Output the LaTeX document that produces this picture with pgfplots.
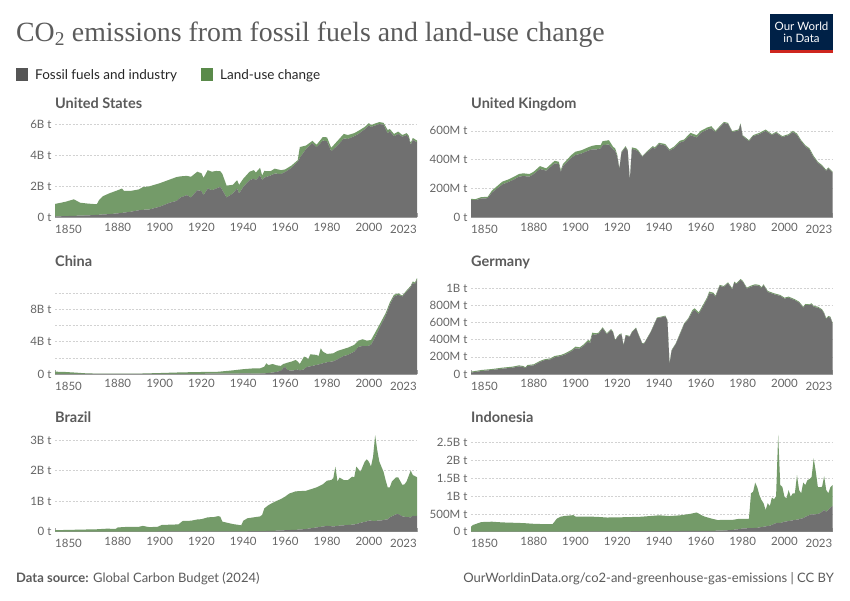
\documentclass[border=0pt]{standalone}
\usepackage{pgfplots}
\pgfplotsset{compat=1.18}
\usepackage{pgfplotstable}
\usepackage{fontspec}
\setmainfont{Lato}
\newfontfamily\titlefont{Liberation Serif}
\definecolor{fossilc}{HTML}{707070}
\definecolor{landc}{HTML}{749B69}
\definecolor{fossilleg}{HTML}{555555}
\definecolor{landleg}{HTML}{5A8A4A}
\definecolor{txt}{HTML}{5B5B5B}
\definecolor{tick}{HTML}{666666}
\definecolor{owidblue}{HTML}{002147}
\definecolor{owidred}{HTML}{CE261E}

\pgfplotstableread{
year fossil land
1850 0.05 0.81
1855 0.07 0.93
1859 0.09 1.07
1862 0.10 0.84
1866 0.12 0.76
1870 0.15 0.69
1871 0.16 0.94
1873 0.18 1.19
1876 0.20 1.35
1880 0.25 1.50
1882 0.28 1.58
1883 0.30 1.40
1886 0.35 1.35
1890 0.45 1.35
1892 0.48 1.47
1895 0.50 1.50
1900 0.68 1.52
1905 0.95 1.50
1908 1.05 1.55
1910 1.28 1.37
1913 1.43 1.25
1915 1.28 1.34
1918 1.75 1.20
1920 1.70 1.15
1921 1.43 1.12
1923 1.86 1.19
1925 1.75 1.20
1927 1.86 1.14
1929 1.97 1.01
1930 1.75 1.05
1932 1.28 0.77
1935 1.54 0.56
1937 1.86 0.54
1938 1.54 0.56
1940 1.97 0.53
1943 2.40 0.55
1945 2.50 0.55
1946 2.40 0.50
1948 2.72 0.48
1949 2.40 0.30
1950 2.57 0.43
1953 2.70 0.28
1955 2.83 0.32
1958 2.80 0.25
1960 2.93 0.17
1963 3.20 0.15
1966 3.60 0.10
1967 3.85 0.70
1970 4.43 0.22
1973 4.80 0.15
1975 4.54 0.16
1978 4.97 0.23
1980 4.93 0.25
1982 4.28 0.22
1985 4.65 0.30
1988 5.10 0.30
1990 5.08 0.25
1993 5.25 0.20
1995 5.40 0.20
1998 5.70 0.15
2000 5.95 0.15
2001 5.85 0.12
2003 5.95 0.13
2005 6.04 0.13
2007 6.00 0.12
2009 5.44 0.21
2010 5.58 0.14
2012 5.25 0.15
2014 5.40 0.15
2016 5.22 0.11
2018 5.33 0.12
2019 5.18 0.12
2020 4.69 0.13
2021 5.01 0.13
2023 4.86 0.11
}\usdata

\pgfplotstableread{
year fossil land
1850 120 8
1852 118 7
1855 130 10
1858 132 9
1860 171 14
1865 228 19
1868 245 18
1870 258 19
1873 282 18
1875 286 19
1878 282 18
1880 300 16
1883 335 20
1886 323 16
1890 374 18
1892 369 16
1893 316 12
1894 355 14
1898 413 19
1900 432 23
1903 443 23
1906 462 23
1908 471 25
1910 471 30
1912 478 22
1913 501 27
1916 505 30
1918 471 18
1919 462 16
1920 420 12
1921 335 4
1922 448 7
1924 485 9
1925 459 7
1926 258 5
1927 475 10
1929 466 12
1930 457 9
1932 420 5
1934 448 7
1937 485 9
1938 475 10
1940 508 9
1943 498 10
1945 462 9
1947 478 11
1950 519 12
1952 528 12
1955 570 16
1958 554 16
1960 586 14
1963 609 14
1965 618 14
1967 591 9
1969 623 9
1971 655 7
1973 648 7
1975 591 7
1978 602 7
1979 644 7
1980 563 7
1983 528 7
1985 563 7
1988 577 9
1991 600 9
1994 570 7
1996 586 7
1999 556 7
2002 570 7
2004 591 9
2006 572 9
2008 526 9
2010 492 8
2012 468 10
2014 415 10
2016 378 7
2018 353 9
2020 321 7
2021 339 7
2023 309 7
}\ukdata

\pgfplotstableread{
year fossil land
1850 0.01 0.28
1855 0.01 0.24
1860 0.01 0.16
1865 0.01 0.07
1870 0.01 0.04
1880 0.01 0.04
1890 0.01 0.04
1900 0.01 0.11
1910 0.02 0.18
1920 0.03 0.22
1928 0.04 0.24
1935 0.05 0.40
1940 0.07 0.53
1945 0.06 0.64
1948 0.06 0.64
1950 0.08 0.82
1951 0.10 1.22
1952 0.13 0.97
1954 0.18 1.06
1956 0.27 0.80
1958 0.41 0.59
1959 0.70 0.54
1960 0.90 0.40
1961 0.50 0.90
1963 0.41 1.12
1965 0.50 1.24
1966 0.55 0.98
1967 0.45 0.79
1969 0.58 1.57
1970 0.83 1.24
1971 0.90 0.92
1972 0.95 1.49
1975 1.12 1.24
1976 1.18 1.05
1977 1.25 1.93
1978 1.32 1.45
1980 1.45 1.03
1983 1.57 0.99
1985 1.82 1.03
1988 2.23 0.87
1990 2.36 0.90
1993 2.77 0.83
1995 3.35 0.78
1997 3.47 0.83
1999 3.43 0.70
2001 3.60 0.60
2003 4.55 0.57
2005 5.66 0.41
2008 7.19 0.33
2010 8.55 0.29
2012 9.59 0.21
2014 9.79 0.17
2016 9.59 0.11
2018 10.17 0.16
2020 10.74 0.16
2021 11.24 0.21
2022 11.12 0.18
2023 11.65 0.21
}\cndata

\pgfplotstableread{
year fossil land
1850 16 11
1855 35 12
1860 47 11
1865 62 12
1870 74 12
1873 89 12
1875 82 11
1876 66 12
1877 93 12
1880 101 12
1883 140 12
1885 160 11
1888 171 12
1890 195 15
1893 210 12
1895 226 15
1898 265 15
1900 300 19
1902 296 15
1904 331 15
1906 377 20
1907 358 27
1908 455 27
1910 463 12
1911 467 15
1913 533 12
1915 463 12
1917 514 11
1918 482 12
1919 389 8
1920 428 8
1921 455 8
1922 463 12
1923 331 8
1924 447 8
1926 436 8
1927 486 8
1929 533 8
1930 467 8
1932 350 8
1933 358 8
1936 486 8
1939 650 8
1941 661 8
1943 673 8
1944 623 7
1945 117 8
1946 272 8
1948 350 8
1950 463 12
1952 580 11
1954 638 12
1956 728 19
1957 747 20
1959 700 20
1961 786 19
1963 875 20
1964 942 19
1966 934 15
1967 899 15
1969 1027 12
1971 1016 11
1973 1058 12
1975 988 12
1976 1066 12
1977 1047 11
1979 1097 12
1980 1078 11
1982 996 12
1984 1019 12
1986 1035 12
1988 1027 12
1989 1000 12
1990 1035 12
1992 957 12
1995 930 12
1998 911 11
2000 879 12
2002 891 12
2005 860 12
2007 833 11
2009 774 12
2010 805 12
2012 802 11
2013 813 12
2014 782 12
2016 774 12
2018 743 12
2019 704 12
2020 638 12
2021 665 12
2022 658 11
2023 588 11
}\dedata

\pgfplotstableread{
year fossil land
1850 0.002 0.048
1860 0.003 0.062
1870 0.004 0.076
1875 0.004 0.096
1879 0.005 0.085
1880 0.005 0.135
1885 0.005 0.155
1890 0.006 0.154
1892 0.006 0.184
1895 0.006 0.144
1899 0.007 0.153
1901 0.007 0.213
1905 0.008 0.222
1909 0.008 0.232
1911 0.009 0.341
1915 0.009 0.351
1918 0.010 0.390
1920 0.010 0.400
1923 0.011 0.459
1926 0.012 0.468
1928 0.012 0.498
1929 0.012 0.478
1930 0.012 0.318
1935 0.013 0.237
1939 0.015 0.195
1940 0.015 0.345
1942 0.015 0.425
1945 0.017 0.453
1948 0.019 0.481
1949 0.020 0.530
1950 0.022 0.738
1952 0.025 0.845
1955 0.03 0.95
1958 0.04 1.03
1960 0.05 1.10
1962 0.055 1.195
1965 0.06 1.26
1970 0.09 1.25
1975 0.14 1.31
1978 0.17 1.38
1980 0.19 1.48
1982 0.18 1.51
1983 0.17 1.58
1984 0.18 1.95
1985 0.19 1.45
1986 0.20 1.57
1988 0.21 1.48
1990 0.22 1.47
1992 0.23 1.57
1993 0.24 1.54
1994 0.25 1.88
1996 0.29 1.67
1998 0.32 1.97
1999 0.34 2.03
2000 0.36 1.93
2001 0.36 1.77
2002 0.35 2.10
2003 0.35 2.81
2004 0.36 2.31
2005 0.36 1.93
2007 0.38 1.58
2008 0.40 1.29
2009 0.40 1.05
2010 0.47 0.98
2011 0.50 1.14
2013 0.57 1.21
2014 0.58 1.20
2016 0.50 1.03
2017 0.49 1.06
2018 0.48 1.16
2020 0.47 1.53
2021 0.52 1.33
2022 0.51 1.31
2023 0.52 1.26
}\brdata

\pgfplotstableread{
year fossil land
1850 0.001 0.14
1851 0.001 0.19
1853 0.001 0.23
1855 0.001 0.27
1860 0.001 0.28
1865 0.001 0.26
1870 0.002 0.25
1875 0.002 0.24
1880 0.002 0.22
1885 0.003 0.21
1889 0.003 0.21
1890 0.003 0.28
1891 0.003 0.36
1893 0.004 0.42
1895 0.004 0.44
1899 0.005 0.46
1900 0.005 0.42
1905 0.007 0.42
1910 0.008 0.41
1915 0.009 0.39
1920 0.01 0.39
1925 0.012 0.40
1930 0.015 0.40
1935 0.017 0.42
1940 0.02 0.44
1945 0.015 0.425
1950 0.02 0.44
1955 0.022 0.48
1958 0.025 0.515
1959 0.025 0.485
1960 0.025 0.445
1962 0.025 0.395
1965 0.025 0.345
1968 0.028 0.30
1970 0.03 0.30
1975 0.05 0.28
1978 0.07 0.29
1980 0.09 0.27
1983 0.10 0.26
1984 0.10 0.98
1985 0.10 1.02
1986 0.11 1.27
1987 0.11 1.14
1988 0.12 0.91
1989 0.13 0.76
1990 0.14 0.66
1991 0.15 0.46
1992 0.16 0.64
1993 0.17 0.55
1994 0.19 0.77
1995 0.22 0.69
1996 0.24 0.76
1997 0.25 2.47
1998 0.24 1.07
1999 0.26 1.00
2000 0.28 0.70
2001 0.29 0.65
2002 0.30 0.87
2003 0.31 0.67
2004 0.32 0.76
2005 0.33 0.75
2006 0.34 1.25
2007 0.35 0.82
2008 0.37 0.71
2009 0.38 1.00
2010 0.42 0.89
2011 0.44 1.01
2012 0.47 1.01
2013 0.49 1.05
2014 0.49 1.57
2015 0.49 1.20
2016 0.50 0.75
2017 0.52 0.73
2018 0.56 0.70
2019 0.61 0.95
2020 0.56 0.61
2021 0.61 0.47
2022 0.68 0.57
2023 0.72 0.59
}\iddata

\pgfplotsset{
  panel/.style={
    scale only axis, xmin=1850, xmax=2023, ymin=0, clip=false,
    stack plots=y,
    axis line style={draw=none},
    tick pos=left,
    xtick={1880,1900,1920,1940,1960,1980,2000},
    xticklabels={1880,1900,1920,1940,1960,1980,2000},
    major tick length=0pt,
    extra x ticks={1850,2023}, extra x tick labels={},
    extra x tick style={major tick length=4pt, tick style={color=gray!70, line width=0.6pt}, grid=none},
    xticklabel style={font=\fontsize{11.5}{13}\selectfont, text=tick, yshift=-2pt},
    yticklabel style={font=\fontsize{11.5}{13}\selectfont, text=tick},
    ytick style={draw=none},
    ymajorgrids, yminorgrids,
    major grid style={color=gray!35, dash pattern=on 2pt off 1.5pt, line width=0.5pt},
    minor grid style={color=gray!35, dash pattern=on 2pt off 1.5pt, line width=0.5pt},
    /pgf/number format/assume math mode=true,
  },
}
\newcommand{\panelfinish}[1]{%
  \draw[color=gray!75, line width=0.7pt] (axis cs:1850,0) -- (axis cs:2023,0);
  \node[anchor=north west, font=\fontsize{11.5}{13}\selectfont, text=tick, inner sep=0pt] at ([yshift=-7.5pt]axis cs:1850,0) {1850};
  \node[anchor=north east, font=\fontsize{11.5}{13}\selectfont, text=tick, inner sep=0pt] at ([yshift=-7.5pt]axis cs:2023,0) {2023};
}
\newcommand{\areas}[1]{%
  \addplot[fill=fossilc, draw=none] table[x=year,y=fossil]{#1} \closedcycle;
  \addplot[fill=landc, draw=none] table[x=year,y=land]{#1} \closedcycle;
}

\begin{document}
\begin{tikzpicture}
\path[use as bounding box, fill=white] (0pt,0pt) rectangle (850pt,-600pt);

% title
\node[anchor=base west, inner sep=0pt, text=txt, font=\titlefont\fontsize{27.8}{32}\selectfont] at (16pt,-41pt) {CO\textsubscript{2} emissions from fossil fuels and land-use change};

% logo
\fill[owidblue] (770pt,-14pt) rectangle (833pt,-50pt);
\fill[owidred] (770pt,-50pt) rectangle (833pt,-53pt);
\node[text=white, font=\fontsize{11.5}{12.5}\selectfont, align=center, inner sep=0pt] at (801.5pt,-32.5pt) {Our World\\in Data};

% legend
\fill[fossilleg] (16pt,-68pt) rectangle (28pt,-81pt);
\node[anchor=base west, inner sep=0pt, text=black!85, font=\fontsize{13.5}{15}\selectfont] at (35pt,-79pt) {Fossil fuels and industry};
\fill[landleg] (201pt,-68pt) rectangle (213pt,-81pt);
\node[anchor=base west, inner sep=0pt, text=black!85, font=\fontsize{13.5}{15}\selectfont] at (220pt,-79pt) {Land-use change};

% panel titles
\foreach \x/\y/\t in {55/108/United States, 471/108/United Kingdom, 55/266/China, 471/266/Germany, 55/422/Brazil, 471/422/Indonesia}
  \node[anchor=base west, inner sep=0pt, text=txt, font=\bfseries\fontsize{14.5}{16}\selectfont] at (\x pt,-\y pt) {\t};

% United States
\begin{axis}[panel, at={(55pt,-217.2pt)}, anchor=south west, width=362pt, height=95.3pt, ymax=6.18,
  ytick={0,2,4,6}, yticklabels={0 t,2B t,4B t,6B t}]
\areas{\usdata}
\panelfinish{}
\end{axis}

% United Kingdom
\begin{axis}[panel, at={(471pt,-217.2pt)}, anchor=south west, width=361.5pt, height=95.3pt, ymax=662,
  ytick={0,200,400,600}, yticklabels={0 t,200M t,400M t,600M t}]
\areas{\ukdata}
\panelfinish{}
\end{axis}

% China
\begin{axis}[panel, at={(55pt,-374pt)}, anchor=south west, width=362pt, height=96pt, ymax=11.87,
  ytick={0,4,8}, yticklabels={0 t,4B t,8B t}, minor ytick={2,6,10}]
\areas{\cndata}
\panelfinish{}
\end{axis}

% Germany
\begin{axis}[panel, at={(471pt,-374pt)}, anchor=south west, width=361.5pt, height=96pt, ymax=1120,
  ytick={0,200,400,600,800,1000}, yticklabels={0 t,200M t,400M t,600M t,800M t,1B t}]
\areas{\dedata}
\panelfinish{}
\end{axis}

% Brazil
\begin{axis}[panel, at={(55pt,-531.7pt)}, anchor=south west, width=362pt, height=96.7pt, ymax=3.163,
  ytick={0,1,2,3}, yticklabels={0 t,1B t,2B t,3B t}]
\areas{\brdata}
\panelfinish{}
\end{axis}

% Indonesia
\begin{axis}[panel, at={(471pt,-531.7pt)}, anchor=south west, width=361.5pt, height=96.7pt, ymax=2.716,
  ytick={0,0.5,1,1.5,2,2.5}, yticklabels={0 t,500M t,1B t,1.5B t,2B t,2.5B t}]
\areas{\iddata}
\panelfinish{}
\end{axis}

% footer
\node[anchor=base west, inner sep=0pt, text=txt, font=\fontsize{13}{15}\selectfont] at (16pt,-582pt) {\textbf{Data source:} Global Carbon Budget (2024)};
\node[anchor=base east, inner sep=0pt, text=txt, font=\fontsize{13}{15}\selectfont] at (834pt,-582pt) {OurWorldinData.org/co2-and-greenhouse-gas-emissions | CC BY};
\end{tikzpicture}
\end{document}
